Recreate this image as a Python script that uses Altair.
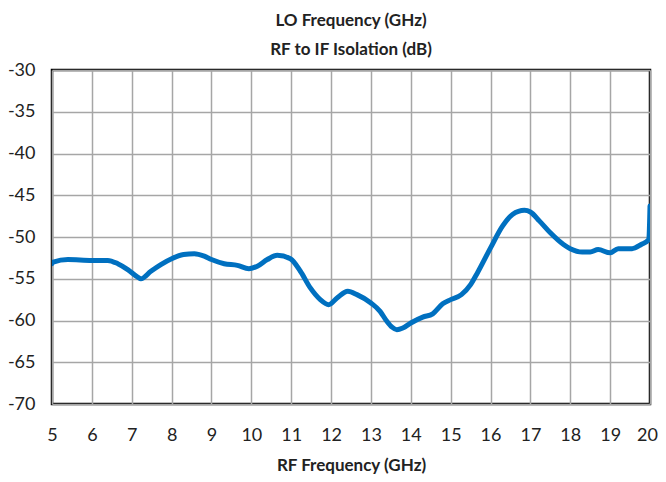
import altair as alt
import pandas as pd

freq = [5.0, 5.03, 5.4, 6.0, 6.4, 6.65, 6.9, 7.15, 7.23, 7.48, 7.73, 8.0, 8.3, 8.57, 8.82,
        9.0, 9.32, 9.65, 9.94, 10.15, 10.4, 10.65, 10.98, 11.23, 11.48, 11.73, 11.94,
        12.15, 12.42, 12.65, 13.0, 13.23, 13.4, 13.53, 13.65, 13.8, 14.0, 14.3, 14.55,
        14.8, 15.0, 15.27, 15.5, 15.67, 16.0, 16.3, 16.55, 16.85, 17.0, 17.23, 17.5,
        17.83, 18.0, 18.3, 18.5, 18.7, 19.0, 19.2, 19.55, 19.78, 19.97, 20.0]
isolation = [-53.2, -53.0, -52.7, -52.8, -52.8, -53.2, -53.9, -54.8, -55.0, -54.1, -53.3,
             -52.6, -52.1, -52.0, -52.3, -52.7, -53.2, -53.4, -53.8, -53.5, -52.7, -52.2,
             -52.6, -54.1, -56.1, -57.5, -58.1, -57.3, -56.5, -56.9, -57.9, -58.9, -60.1,
             -60.8, -61.1, -60.9, -60.3, -59.6, -59.2, -58.0, -57.5, -56.9, -55.7, -54.3,
             -51.3, -48.7, -47.3, -46.8, -47.0, -48.1, -49.5, -50.9, -51.4, -51.8, -51.8,
             -51.5, -51.9, -51.4, -51.4, -50.9, -50.3, -46.3]
x_ticks = list(range(5, 21))
y_ticks = list(range(-70, -29, 5))

df = pd.DataFrame({"freq": freq, "iso": isolation})

font = "Lato"

chart = alt.Chart(df).mark_line(
    color="#0070C0", strokeWidth=5, interpolate="monotone", strokeCap="round", clip=True
).encode(
    x=alt.X("freq:Q",
            scale=alt.Scale(domain=[5, 20], nice=False, zero=False),
            axis=alt.Axis(title="RF Frequency (GHz)", values=x_ticks,
                          ticks=False, domain=False, labelOverlap=False,
                          labelFontSize=18, labelFont=font, labelColor="#222",
                          labelOffset={"condition": {"test": "datum.value == 20", "value": -3},
                                       "value": 0},
                          labelPadding=22, grid=True, gridColor="#A6A6A6", gridWidth=1.5,
                          titleFontSize=17, titleFont=font, titleFontWeight="bold",
                          titleColor="#222", titlePadding=13, labelFlush=False)),
    y=alt.Y("iso:Q",
            scale=alt.Scale(domain=[-70, -30], nice=False, zero=False),
            axis=alt.Axis(title=None, values=y_ticks, labelExpr="'' + datum.value",
                          ticks=False, domain=False, labelOverlap=False,
                          labelFontSize=18, labelFont=font, labelColor="#222",
                          labelPadding=17, grid=True, gridColor="#A6A6A6", gridWidth=1.5)),
).properties(
    width=598,
    height=334,
    title=alt.TitleParams(
        text=["LO Frequency (GHz)", "RF to IF Isolation (dB)"],
        fontSize=17, font=font, fontWeight="bold", color="#222",
        lineHeight=29, anchor="middle", offset=2,
    ),
    padding={"left": 44, "top": 62, "right": 8, "bottom": 70},
    autosize=alt.AutoSizeParams(type="none"),
).configure(
    background="white"
).configure_view(
    stroke="black", strokeWidth=2.5
)

chart.save("out.html", embed_options={"renderer": "svg", "actions": False})
